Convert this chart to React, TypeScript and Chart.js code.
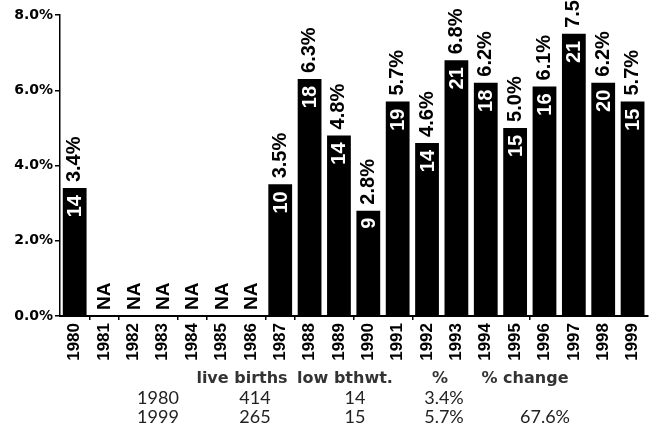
import React, { useEffect, useRef } from "react";
import { Chart, registerables } from "chart.js";

Chart.register(...registerables);

// ---- data ----
const years = [
  "1980", "1981", "1982", "1983", "1984", "1985", "1986", "1987", "1988", "1989",
  "1990", "1991", "1992", "1993", "1994", "1995", "1996", "1997", "1998", "1999",
];
const lowBirthPct: (number | null)[] = [
  3.4, null, null, null, null, null, null, 3.5, 6.3, 4.8,
  2.8, 5.7, 4.6, 6.8, 6.2, 5.0, 6.1, 7.5, 6.2, 5.7,
];
const lowBirthCounts: (number | null)[] = [
  14, null, null, null, null, null, null, 10, 18, 14,
  9, 19, 14, 21, 18, 15, 16, 21, 20, 15,
];
const yTickValues = [0, 2, 4, 6, 8];
const naLabel = "NA";

const tableHeaders = ["live births", "low bthwt.", "%", "% change"];
const tableYears = ["1980", "1999"];
const tableLiveBirths = ["414", "265"];
const tableLowBthwt = ["14", "15"];
const tablePct = ["3.4%", "5.7%"];
const tablePctChange = ["", "67.6%"];

// ---- layout / style (not data) ----
const W = 656;
const H = 432;
const tickedBoundaries = [1, 2, 4, 5, 7, 8, 10, 12, 16];
const headerCenters = [242, 345, 440, 525];
const rowCenters = [158, 255, 355, 444, 545];
const headerY = 378;
const rowYs = [397, 416];

const labelPlugin = {
  id: "barLabels",
  afterDatasetsDraw(chart: any) {
    const ctx = chart.ctx as CanvasRenderingContext2D;
    const meta = chart.getDatasetMeta(0);
    const xScale = chart.scales.x;
    const yScale = chart.scales.y;
    lowBirthPct.forEach((v, i) => {
      const x = xScale.getPixelForValue(i);
      ctx.save();
      if (v == null) {
        ctx.translate(x, yScale.getPixelForValue(0) - 6);
        ctx.rotate(-Math.PI / 2);
        ctx.font = 'bold 19px "Liberation Sans", Arial, sans-serif';
        ctx.fillStyle = "#000";
        ctx.textAlign = "left";
        ctx.textBaseline = "middle";
        ctx.fillText(naLabel, 0, 1);
        ctx.restore();
        return;
      }
      const bar = meta.data[i];
      const top = bar ? bar.y : yScale.getPixelForValue(v);
      // percent label above the bar
      ctx.save();
      ctx.translate(x - 1, top - 6);
      ctx.rotate(-Math.PI / 2);
      ctx.font = 'bold 20px "Liberation Sans", Arial, sans-serif';
      ctx.fillStyle = "#000";
      ctx.textAlign = "left";
      ctx.textBaseline = "middle";
      ctx.fillText(v.toFixed(1) + "%", 0, 1);
      ctx.restore();
      // count inside the bar
      const c = lowBirthCounts[i];
      if (c != null) {
        ctx.save();
        ctx.translate(x, top + 7);
        ctx.rotate(-Math.PI / 2);
        ctx.font = 'bold 20px "Liberation Sans", Arial, sans-serif';
        ctx.fillStyle = "#fff";
        ctx.textAlign = "right";
        ctx.textBaseline = "middle";
        ctx.fillText(String(c), 0, 1);
        ctx.restore();
      }
      ctx.restore();
    });
  },
};

export default function App() {
  const canvasRef = useRef<HTMLCanvasElement | null>(null);

  useEffect(() => {
    if (!canvasRef.current) return;
    const chart = new Chart(canvasRef.current, {
      type: "bar",
      data: {
        labels: years,
        datasets: [
          {
            data: lowBirthPct as any,
            backgroundColor: "#000",
            borderWidth: 0,
            barPercentage: 0.9,
            categoryPercentage: 0.9,
          },
        ],
      },
      options: {
        responsive: false,
        maintainAspectRatio: false,
        animation: false,
        devicePixelRatio: 1,
        layout: { padding: { top: 15, right: 1, left: 0, bottom: 0 } },
        plugins: {
          legend: { display: false },
          tooltip: { enabled: false },
        },
        scales: {
          x: {
            grid: {
              display: true,
              drawOnChartArea: false,
              drawTicks: true,
              tickLength: 4,
              lineWidth: 1.5,
              color: (c: any) =>
                tickedBoundaries.includes(c.index) ? "#000" : "rgba(0,0,0,0)",
            },
            border: { display: true, color: "#000", width: 2 },
            ticks: {
              minRotation: 90,
              maxRotation: 90,
              autoSkip: false,
              color: "#000",
              padding: 3,
              font: { family: '"Liberation Sans", Arial, sans-serif', weight: "bold", size: 17 },
            },
            afterFit: (s: any) => {
              s.height = 116;
            },
          },
          y: {
            min: 0,
            max: 8,
            afterBuildTicks: (s: any) => {
              s.ticks = yTickValues.map((v) => ({ value: v }));
            },
            grid: {
              drawOnChartArea: false,
              drawTicks: true,
              tickLength: 5,
              lineWidth: 1.5,
              color: "#000",
            },
            border: { display: true, color: "#000", width: 1.5 },
            ticks: {
              color: "#000",
              padding: 2,
              font: { family: '"DejaVu Sans", sans-serif', weight: "bold", size: 14 },
              callback: (v: any) => Number(v).toFixed(1) + "%",
            },
            afterFit: (s: any) => {
              s.width = 60;
            },
          },
        },
      },
      plugins: [labelPlugin],
    });
    return () => chart.destroy();
  }, []);

  const headStyle: React.CSSProperties = {
    position: "absolute",
    transform: "translate(-50%, -50%)",
    whiteSpace: "nowrap",
    fontFamily: '"DejaVu Sans", sans-serif',
    fontWeight: "bold",
    fontSize: 16,
    color: "#333",
    lineHeight: 1,
  };
  const cellStyle: React.CSSProperties = {
    position: "absolute",
    transform: "translate(-50%, -50%)",
    whiteSpace: "nowrap",
    fontFamily: 'Lato, "Open Sans", sans-serif',
    fontWeight: 400,
    fontSize: 18,
    color: "#222",
    lineHeight: 1,
  };

  const rows = tableYears.map((y, r) => [
    y,
    tableLiveBirths[r],
    tableLowBthwt[r],
    tablePct[r],
    tablePctChange[r],
  ]);

  return (
    <div
      style={{
        position: "fixed",
        left: 0,
        top: 0,
        width: W,
        height: H,
        background: "#fff",
        overflow: "hidden",
      }}
    >
      <canvas
        ref={canvasRef}
        width={W}
        height={H}
        style={{ position: "absolute", left: 0, top: 0, width: W, height: H }}
      />
      {tableHeaders.map((h, i) => (
        <div key={"h" + i} style={{ ...headStyle, left: headerCenters[i], top: headerY }}>
          {h}
        </div>
      ))}
      {rows.map((row, r) =>
        row.map((cell, c) =>
          cell ? (
            <div
              key={"c" + r + "-" + c}
              style={{ ...cellStyle, left: rowCenters[c], top: rowYs[r] }}
            >
              {cell}
            </div>
          ) : null
        )
      )}
    </div>
  );
}
